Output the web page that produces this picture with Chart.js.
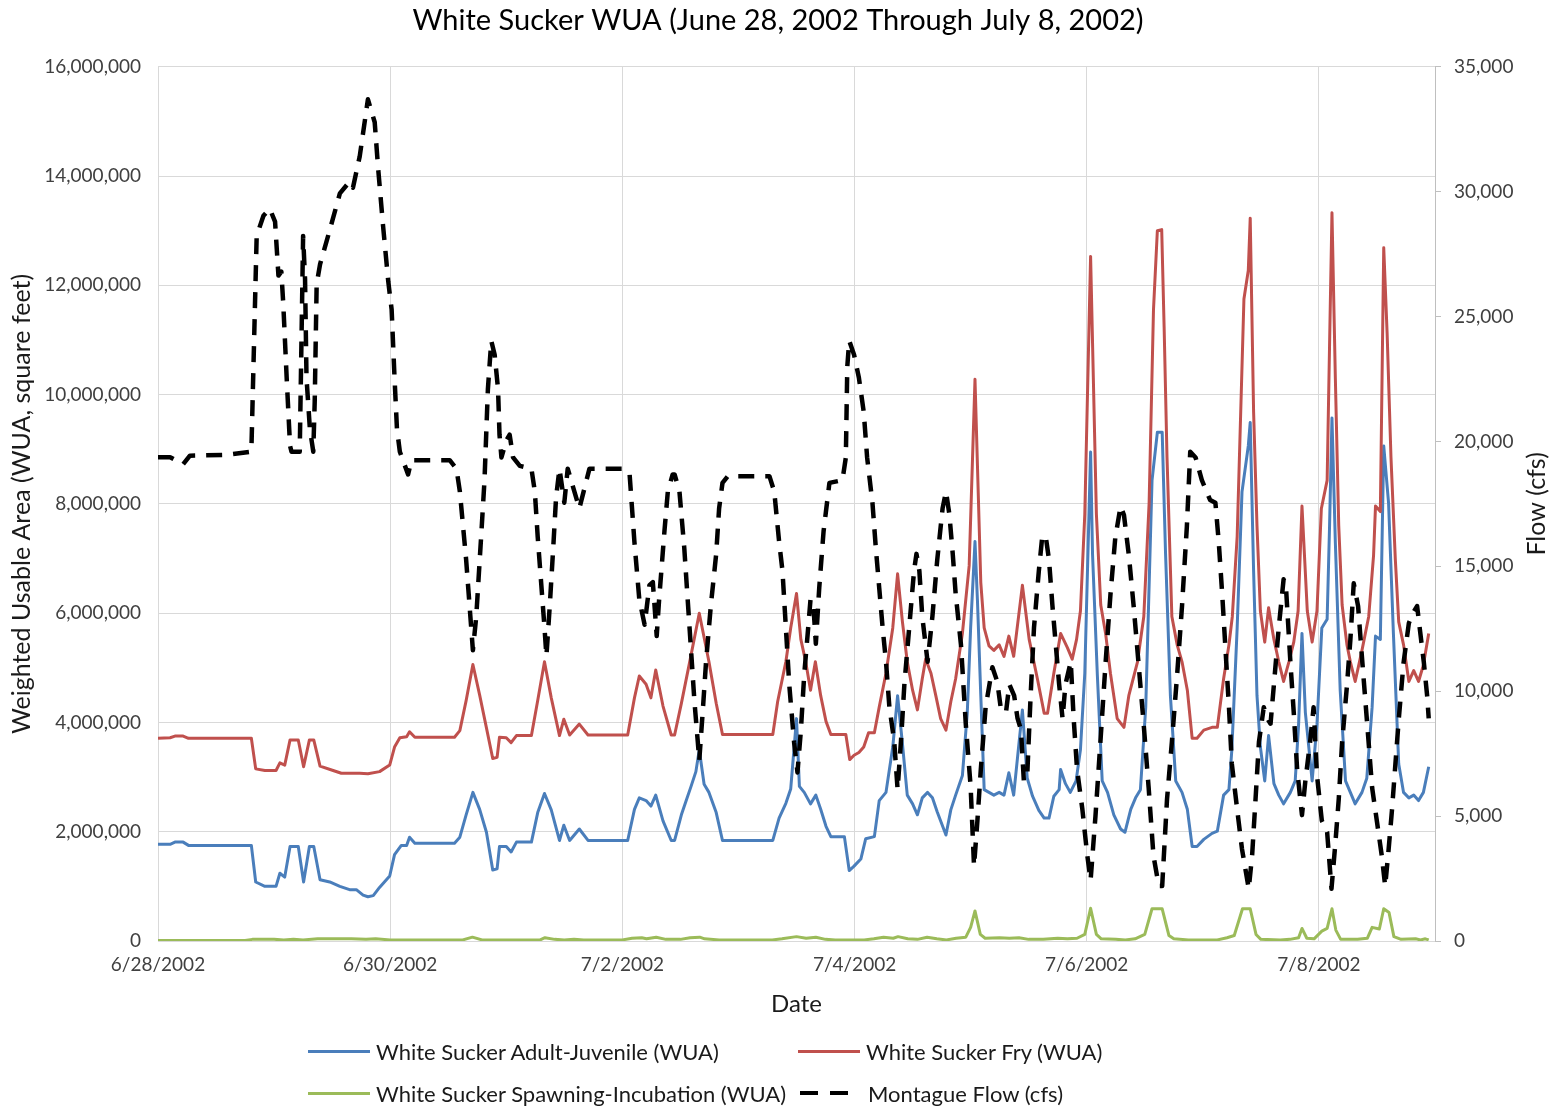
<!DOCTYPE html>
<html>
<head>
<meta charset="utf-8">
<title>White Sucker WUA</title>
<script src="https://cdn.jsdelivr.net/npm/chart.js@4.4.1/dist/chart.umd.min.js"></script>
<style>
  html, body { margin: 0; padding: 0; background: #ffffff; }
  #wrap { position: relative; width: 1556px; height: 1109px; }
  #chart { display: block; }
  #legend { position: absolute; left: 0; top: 0; width: 1556px; height: 1109px; pointer-events: none;
            font-family: Lato, "Open Sans", sans-serif; font-size: 22px; color: #1a1a1a; }
  .lg-item { position: absolute; display: flex; align-items: center; white-space: nowrap; height: 24px; }
  .lg-line { width: 62px; height: 3px; margin-right: 6px; }
</style>
</head>
<body>
<div id="wrap">
  <canvas id="chart" width="1556" height="1109"></canvas>
  <div id="legend"></div>
</div>
<script>
// Hours are counted from 6/28/2002 00:00.
const tickHours  = [0, 48, 96, 144, 192, 240];
const tickLabels = ['6/28/2002', '6/30/2002', '7/2/2002', '7/4/2002', '7/6/2002', '7/8/2002'];

const adultHours = [0,2.5,3.5,5.2,6.3,19.3,20.2,22.1,24.4,25.2,26.2,27.3,29.0,30.1,31.3,32.2,33.5,35.5,37.6,39.6,41.0,42.4,43.4,44.5,45.8,47.9,48.9,50.3,51.4,52.0,53.1,61.3,62.4,63.7,65.1,66.5,67.9,69.2,70.1,70.6,72.0,73.0,74.1,77.2,78.5,79.9,81.3,83.0,83.9,85.1,87.1,88.9,97.1,98.5,99.5,100.9,101.9,102.9,104.4,106.1,106.8,108.2,109.2,110.2,111.2,111.9,112.9,113.9,115.4,116.7,127.1,128.4,129.8,130.8,132.0,132.6,133.6,134.9,136.0,137.0,138.1,139.1,141.9,142.9,143.9,145.3,146.3,148.1,149.1,150.5,151.9,152.9,153.9,154.9,156.0,157.0,158.0,159.1,160.1,161.1,162.9,163.9,164.9,166.3,167.3,168.0,168.9,169.4,170.1,170.8,171.8,172.8,173.9,174.9,175.9,176.9,178.7,179.7,180.8,182.1,183.2,184.2,185.2,186.3,186.6,187.6,188.6,189.8,190.7,191.6,192.8,193.2,194.2,195.2,196.3,197.6,199.0,199.9,201.1,202.1,203.1,204.2,205.5,206.6,207.6,208.3,209.3,210.4,211.7,212.8,213.8,214.8,216.2,217.9,219.0,220.3,221.4,222.0,223.1,224.1,225.4,225.8,226.5,227.2,227.9,228.8,229.6,230.7,231.7,232.7,234.1,235.1,235.8,236.5,237.2,238.6,239.6,240.6,241.7,242.2,242.7,243.4,244.4,245.5,246.5,247.5,248.9,249.9,251.0,251.7,252.7,253.4,254.4,255.4,256.5,257.5,258.6,259.6,260.6,261.6,262.7];
const adultWUA = [1770000,1770000,1810000,1810000,1750000,1750000,1080000,1000000,1000000,1240000,1170000,1730000,1730000,1080000,1730000,1730000,1120000,1080000,1000000,940000,940000,840000,810000,830000,980000,1190000,1580000,1750000,1750000,1900000,1790000,1790000,1900000,2310000,2720000,2410000,1990000,1300000,1320000,1730000,1730000,1630000,1810000,1810000,2350000,2700000,2400000,1840000,2120000,1840000,2050000,1840000,1840000,2410000,2620000,2570000,2470000,2670000,2200000,1840000,1840000,2310000,2570000,2830000,3100000,3500000,2870000,2720000,2350000,1840000,1840000,2250000,2520000,2780000,4070000,2830000,2720000,2510000,2670000,2410000,2100000,1910000,1910000,1290000,1370000,1500000,1870000,1910000,2570000,2720000,3550000,4490000,3610000,2670000,2510000,2310000,2620000,2720000,2620000,2360000,1940000,2400000,2670000,3030000,4170000,5730000,7310000,6250000,4490000,2770000,2720000,2670000,2720000,2670000,3080000,2670000,4230000,2980000,2650000,2390000,2250000,2250000,2650000,2770000,3140000,2880000,2720000,2930000,3500000,4900000,8950000,7080000,4860000,2930000,2720000,2310000,2050000,1990000,2410000,2620000,2770000,4280000,8430000,9310000,9310000,7080000,4490000,2930000,2720000,2410000,1730000,1730000,1860000,1970000,2010000,2670000,2770000,3500000,5730000,8220000,9060000,9490000,6770000,4490000,3550000,2930000,3760000,2880000,2670000,2510000,2720000,2930000,3960000,5630000,4180000,2930000,3960000,5730000,5890000,7590000,9570000,7290000,4590000,2930000,2720000,2510000,2720000,2980000,4280000,5580000,5520000,9060000,8020000,5630000,3240000,2720000,2620000,2670000,2570000,2720000,3190000];

const fryHours = [0,2.5,3.5,5.2,6.3,19.3,20.2,22.1,24.4,25.2,26.2,27.3,29.0,30.1,31.3,32.2,33.5,36.2,37.9,41.7,43.4,45.8,47.9,48.9,50.0,51.4,52.0,53.1,61.3,62.4,63.7,65.1,66.5,67.9,69.2,70.1,70.6,72.0,73.0,74.1,77.2,78.5,79.9,81.3,83.0,83.9,85.1,87.1,88.9,97.1,98.5,99.5,100.9,101.9,102.9,104.4,106.1,106.8,108.2,109.9,111.9,113.9,115.4,116.7,127.1,128.1,129.8,130.8,132.0,132.9,133.9,134.9,135.9,137.0,138.1,139.1,142.2,143.0,143.9,144.9,145.9,146.9,148.1,149.1,150.5,151.9,152.9,153.9,154.9,156.0,157.0,158.0,158.7,159.8,160.8,161.8,162.9,163.9,164.9,166.3,167.7,168.9,170.1,170.8,171.8,172.8,173.9,174.9,175.9,176.9,178.7,180.1,181.8,183.2,183.9,185.2,186.6,188.0,189.0,189.9,190.7,191.6,192.8,194.0,194.9,195.9,196.9,198.3,199.7,200.7,202.5,203.8,204.9,205.8,206.6,207.5,208.0,208.6,209.6,210.7,211.7,212.8,213.8,214.8,216.2,217.9,219.0,220.3,221.4,222.1,223.1,224.5,225.4,225.8,226.5,227.2,227.9,228.8,229.6,230.7,231.7,232.7,233.8,234.8,235.7,236.5,237.6,238.6,239.6,240.5,241.7,242.2,242.7,243.4,244.1,244.8,245.8,246.5,247.5,248.9,250.3,251.3,251.7,252.7,253.4,254.1,254.9,255.8,256.5,257.5,258.6,259.6,260.6,261.6,262.7];
const fryWUA = [3710000,3720000,3750000,3750000,3710000,3710000,3150000,3120000,3120000,3260000,3220000,3680000,3680000,3190000,3680000,3680000,3200000,3120000,3070000,3070000,3060000,3100000,3220000,3550000,3720000,3740000,3830000,3730000,3730000,3850000,4400000,5060000,4500000,3900000,3340000,3360000,3730000,3720000,3630000,3760000,3760000,4400000,5110000,4450000,3760000,4060000,3770000,3970000,3770000,3770000,4450000,4850000,4700000,4450000,4960000,4300000,3770000,3770000,4350000,5100000,6000000,5110000,4350000,3780000,3780000,4380000,5110000,5730000,6360000,5520000,5110000,4590000,5110000,4490000,4020000,3780000,3780000,3320000,3400000,3450000,3550000,3810000,3810000,4280000,4900000,5730000,6720000,5840000,5110000,4590000,4230000,4800000,5160000,4900000,4490000,4070000,3860000,4380000,4800000,5630000,6870000,10280000,6560000,5730000,5400000,5320000,5420000,5210000,5580000,5210000,6510000,5520000,4800000,4170000,4170000,4900000,5630000,5370000,5160000,5520000,6040000,7810000,12530000,7810000,6150000,5630000,4900000,4070000,3910000,4490000,5110000,5940000,8020000,11550000,13000000,13020000,11240000,8850000,5940000,5420000,5110000,4590000,3710000,3710000,3860000,3910000,3910000,4800000,5420000,5940000,7400000,11750000,12270000,13230000,9680000,7600000,6040000,5470000,6100000,5520000,5110000,4750000,5110000,5470000,6040000,7960000,6040000,5470000,6040000,7910000,8430000,10900000,13330000,10300000,7600000,6150000,5420000,5110000,4750000,5320000,5940000,7060000,7960000,7860000,12690000,11130000,8850000,6980000,5840000,5420000,4750000,4950000,4750000,5050000,5630000];

const spawnHours = [0,18,19.5,24,26,28,30,33,40,43,45,48,63,65,67,79,80,82,84,86,88,96,98,100,101,103,105,108,110,112,113,116,127,129,132,134,136,138,140,146,148,150,152,153,155,157,159,161,163,165,167,168,168.9,170,171,174,176,178,180,183,186,188,190,191.6,192.8,194,195,198,200,202,204,205.5,207.6,209,210,213,216,219,221,222.5,224.2,225.8,227,228,232,234,235.8,236.5,237.5,239,240.6,241.7,242.7,243.5,244.5,248,250,251,252.5,253.4,254.5,255.5,257,260,261,262,262.7];
const spawnWUA = [10000,10000,30000,30000,20000,30000,20000,40000,40000,30000,40000,20000,20000,70000,20000,20000,60000,30000,20000,30000,20000,20000,50000,60000,40000,70000,30000,30000,60000,70000,40000,20000,20000,40000,80000,50000,70000,30000,20000,20000,40000,70000,50000,80000,40000,30000,70000,40000,20000,50000,70000,250000,550000,120000,50000,60000,50000,60000,30000,30000,50000,40000,50000,120000,600000,120000,40000,30000,20000,40000,120000,590000,590000,100000,40000,20000,20000,20000,60000,100000,590000,590000,120000,30000,20000,30000,60000,230000,50000,40000,180000,230000,590000,200000,30000,30000,50000,250000,220000,590000,520000,80000,30000,40000,20000,40000,20000];

const flowHours = [0,2.5,5.2,6.6,14.2,19.3,20.4,21.8,23.1,24.2,24.9,25.5,25.9,26.6,27.3,27.6,29.3,30.0,30.4,30.7,31.4,32.1,32.4,32.8,33.5,35.5,37.6,39.6,40.3,41.7,43.4,44.8,45.5,46.5,47.6,48.3,48.9,49.4,50.0,51.7,52.4,60.3,61.7,62.4,63.7,64.4,65.1,65.8,66.8,67.5,68.2,68.9,69.6,70.3,70.6,71.0,72.0,72.7,73.4,74.8,77.2,77.9,78.5,79.2,79.9,80.3,81.0,81.7,82.3,83.0,84.0,84.7,85.4,87.1,89.2,96.4,97.5,98.5,99.5,100.6,101.6,102.3,103.1,103.6,104.7,105.4,106.4,106.8,107.8,108.8,109.5,110.2,110.9,111.6,111.9,112.6,113.3,114.3,115.4,116.0,116.7,117.8,126.4,127.4,128.4,129.1,129.8,130.5,131.5,132.2,132.9,133.6,134.3,134.9,135.5,136.0,136.7,137.6,138.8,141.5,142.2,142.5,142.9,143.9,144.9,145.9,146.6,147.7,148.4,149.1,149.8,150.5,151.2,152.2,152.9,153.6,154.3,155.3,156.3,156.8,157.4,158.0,159.1,160.1,161.1,162.2,162.9,163.6,164.3,164.9,166.0,167.0,168.0,168.7,169.4,170.1,171.1,172.5,173.5,174.2,175.3,176.0,177.0,177.7,178.4,179.0,179.7,180.4,181.1,182.1,182.8,183.5,184.2,184.9,185.6,186.3,187.0,187.6,188.7,189.3,190.0,191.1,192.1,192.8,193.8,194.9,195.9,196.9,197.9,199.0,199.7,200.7,201.7,202.7,203.7,204.8,205.8,206.9,207.6,208.6,209.6,210.7,211.7,212.7,213.4,214.5,215.8,217.5,218.6,219.3,220.0,220.7,221.4,222.0,223.1,224.1,225.5,226.2,226.9,227.6,228.6,229.3,230.0,230.7,231.7,232.7,233.2,234.1,234.8,235.5,236.5,237.2,238.2,238.9,239.6,240.6,241.7,242.6,243.4,244.1,244.8,245.8,246.5,247.2,248.1,248.9,250.0,251.0,252.0,253.0,253.7,254.4,255.1,255.8,256.5,257.5,258.6,259.6,260.3,261.0,261.7,262.4,262.7];
const flowCfs = [19370,19370,19090,19430,19460,19590,28230,29040,29320,28800,26640,26800,25500,22550,19820,19590,19590,28230,26500,22550,20500,19590,21600,26300,27090,28460,29930,30400,30160,31410,33700,32780,30960,28690,26410,25280,22550,20500,19590,18680,19250,19250,18910,18000,15270,13450,11640,13000,16180,18450,22090,24030,23470,22090,20270,19360,20040,20270,19360,19020,18910,18000,16180,14370,12550,11410,13450,15720,17770,18910,17550,18910,18450,17320,18910,18910,18680,15960,13680,12660,14250,14370,12210,13680,16410,18000,18680,18680,18000,15730,13680,11640,9590,7960,7230,9140,11180,13450,15500,17320,18340,18610,18610,18000,16000,14820,12550,10270,7960,6750,8410,10680,12270,13680,13400,11900,14140,16410,18340,18450,19360,23000,24030,23470,22550,21180,19360,17550,15730,14140,12550,11180,9370,8000,6070,8000,10270,12550,14820,15500,14820,13000,11180,13000,15270,17320,18000,17090,15500,13910,11860,8680,6180,3000,4820,6860,9370,10960,10390,9365,9140,10270,9820,8910,8460,6410,6640,9820,12550,14820,16180,16230,15270,13450,11860,10270,8910,10270,11180,8910,6870,5270,3450,2430,4980,8180,11140,13860,16140,17410,17050,15460,13410,11140,8860,6140,3410,2200,2200,5680,7960,10680,13410,16590,19590,19360,18450,17660,17550,15960,13910,11640,9370,7090,5270,3680,2090,3450,5680,7960,9360,8910,8700,10270,12550,14480,14140,11180,9140,6870,5040,6410,8000,9360,6640,4820,4360,2090,3910,5680,7960,10230,12050,14320,13410,11360,8640,6140,4780,3410,2200,3640,5230,7050,8860,11140,12730,13180,13410,12270,11140,9770,8910];

const pairUp = (xs, ys) => xs.map((x, i) => ({ x: x, y: ys[i] }));

const FONT = 'Lato, "Open Sans", sans-serif';
const fmt = v => Number(v).toLocaleString('en-US');

// Vertical title for the right-hand flow axis, reading bottom to top.
const rightAxisTitle = {
  id: 'rightAxisTitle',
  afterDraw(chart) {
    const s = chart.scales.y1;
    const ctx = chart.ctx;
    ctx.save();
    ctx.font = '25px ' + FONT;
    ctx.fillStyle = '#1a1a1a';
    ctx.textAlign = 'center';
    ctx.textBaseline = 'middle';
    ctx.translate(1537, (s.top + s.bottom) / 2);
    ctx.rotate(-Math.PI / 2);
    ctx.fillText('Flow (cfs)', 0, 0);
    ctx.restore();
  }
};

// Two-column legend built from the datasets.
const legendSlots = [[308, 1039], [798, 1039], [308, 1081], [798, 1081]];
const htmlLegend = {
  id: 'htmlLegend',
  afterUpdate(chart) {
    const box = document.getElementById('legend');
    box.innerHTML = '';
    chart.data.datasets.forEach((ds, i) => {
      const item = document.createElement('div');
      item.className = 'lg-item';
      item.style.left = legendSlots[i][0] + 'px';
      item.style.top = legendSlots[i][1] + 'px';
      const line = document.createElement('span');
      line.className = 'lg-line';
      if (ds.borderDash) {
        line.style.height = '4px';
        line.style.width = '50px';
        line.style.margin = '0 18px 0 2px';
        line.style.background = 'linear-gradient(to right, ' + ds.borderColor + ' 0 18px, transparent 18px 30px, ' + ds.borderColor + ' 30px 48px, transparent 48px)';
      } else {
        line.style.background = ds.borderColor;
      }
      const txt = document.createElement('span');
      txt.textContent = ds.label;
      item.appendChild(line);
      item.appendChild(txt);
      box.appendChild(item);
    });
  }
};

new Chart(document.getElementById('chart'), {
  type: 'line',
  data: {
    datasets: [
      { label: 'White Sucker Adult-Juvenile (WUA)', data: pairUp(adultHours, adultWUA), yAxisID: 'y',
        borderColor: '#4a7ebb', borderWidth: 3, order: 4 },
      { label: 'White Sucker Fry (WUA)', data: pairUp(fryHours, fryWUA), yAxisID: 'y',
        borderColor: '#c0504d', borderWidth: 3, order: 3 },
      { label: 'White Sucker Spawning-Incubation (WUA)', data: pairUp(spawnHours, spawnWUA), yAxisID: 'y',
        borderColor: '#9bbb59', borderWidth: 3, order: 2 },
      { label: 'Montague Flow (cfs)', data: pairUp(flowHours, flowCfs), yAxisID: 'y1',
        borderColor: '#000000', borderWidth: 4.5, borderDash: [16, 11], order: 1 }
    ]
  },
  options: {
    responsive: false,
    animation: false,
    parsing: false,
    normalized: true,
    elements: { point: { radius: 0 }, line: { tension: 0, borderCapStyle: 'butt', borderJoinStyle: 'round', fill: false } },
    layout: { padding: { left: 0, right: 0, top: 0, bottom: 88 } },
    plugins: {
      legend: { display: false },
      tooltip: { enabled: false },
      title: {
        display: true,
        text: 'White Sucker WUA (June 28, 2002 Through July 8, 2002)',
        color: '#000000',
        font: { family: FONT, size: 29, weight: 'normal' },
        padding: { top: 3, bottom: 29 }
      }
    },
    scales: {
      x: {
        type: 'linear', min: 0, max: 264,
        afterBuildTicks: s => { s.ticks = tickHours.map(v => ({ value: v })); },
        afterFit: s => { s.height = 80; },
        ticks: {
          autoSkip: false, maxRotation: 0, padding: 12, color: '#404040',
          font: { family: FONT, size: 19 },
          callback: v => tickLabels[tickHours.indexOf(v)]
        },
        grid: { color: '#d9d9d9', drawTicks: false, lineWidth: 1 },
        border: { display: false },
        title: { display: true, text: 'Date', color: '#1a1a1a', font: { family: FONT, size: 24 }, padding: { top: 4, bottom: 2 } }
      },
      y: {
        position: 'left', min: 0, max: 16000000,
        afterFit: s => { s.width = 158; },
        ticks: { stepSize: 2000000, padding: 17, color: '#404040', font: { family: FONT, size: 19 }, callback: fmt },
        grid: { color: '#d9d9d9', drawTicks: false, lineWidth: 1 },
        border: { display: true, color: '#d9d9d9' },
        title: { display: true, text: 'Weighted Usable Area (WUA, square feet)', color: '#1a1a1a',
                 font: { family: FONT, size: 25 }, padding: { top: 7, bottom: 4 } }
      },
      y1: {
        position: 'right', min: 0, max: 35000,
        afterFit: s => { s.width = 121; },
        ticks: { stepSize: 5000, padding: 13, color: '#404040', font: { family: FONT, size: 19 }, callback: fmt },
        grid: { drawOnChartArea: false, drawTicks: true, tickLength: 6, color: '#bfbfbf' },
        border: { display: true, color: '#bfbfbf' }
      }
    }
  },
  plugins: [rightAxisTitle, htmlLegend]
});
</script>
</body>
</html>
